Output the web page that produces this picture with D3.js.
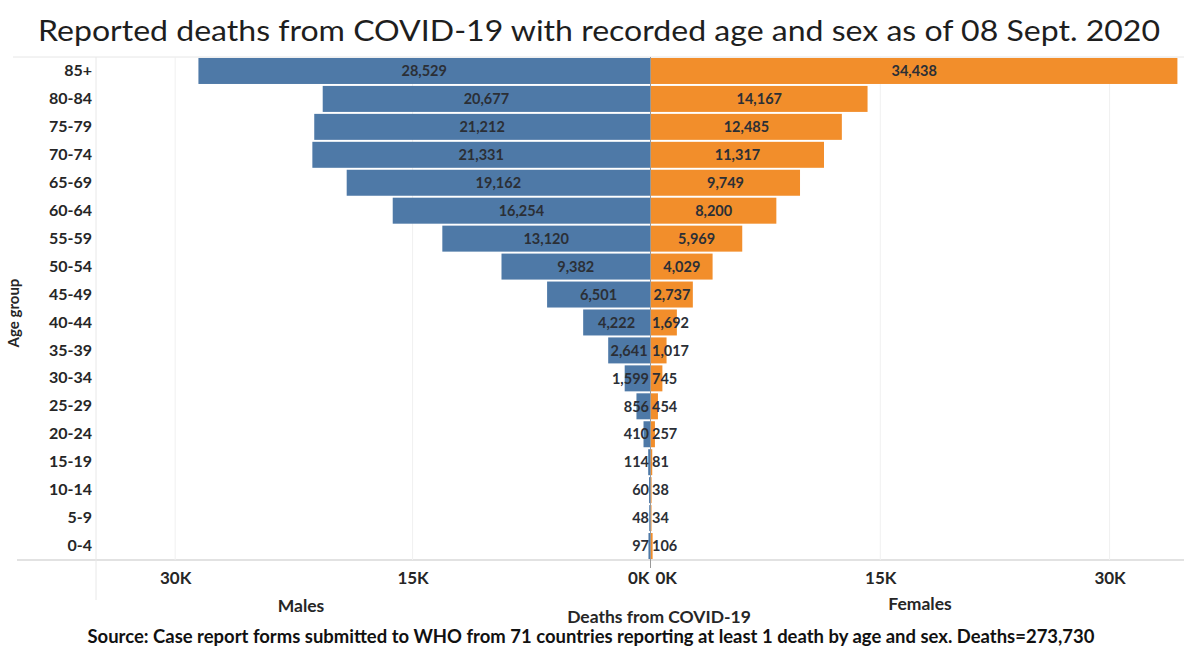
<!DOCTYPE html>
<html>
<head>
<meta charset="utf-8">
<script src="https://cdn.jsdelivr.net/npm/d3@7"></script>
<style>
  html, body { margin: 0; padding: 0; background: #fff; }
  svg { display: block; font-family: Lato, "Open Sans", sans-serif; }
</style>
</head>
<body>
<svg id="chart" width="1184" height="647"></svg>
<script>
// Age groups, top to bottom
const ageGroups = ["85+", "80-84", "75-79", "70-74", "65-69", "60-64", "55-59", "50-54",
  "45-49", "40-44", "35-39", "30-34", "25-29", "20-24", "15-19", "10-14", "5-9", "0-4"];
// Reported deaths by age group
const males = [28529, 20677, 21212, 21331, 19162, 16254, 13120, 9382,
  6501, 4222, 2641, 1599, 856, 410, 114, 60, 48, 97];
const females = [34438, 14167, 12485, 11317, 9749, 8200, 5969, 4029,
  2737, 1692, 1017, 745, 454, 257, 81, 38, 34, 106];
const tickValues = [0, 15000, 30000];

const titleText = "Reported deaths from COVID-19 with recorded age and sex as of 08 Sept. 2020";
const sourceText = "Source: Case report forms submitted to WHO from 71 countries reporting at least 1 death by age and sex. Deaths=273,730";

const svg = d3.select("#chart");
const W = 1184;
const plotTop = 57, plotBottom = 560;
const leftEdge = 96, centerM = 650, centerF = 651, rightEdge = 1186;

const y = d3.scaleBand().domain(ageGroups).range([plotTop, plotBottom]).paddingInner(0.07).paddingOuter(0.035);
const xM = d3.scaleLinear().domain([0, 35000]).range([centerM, leftEdge]);
const xF = d3.scaleLinear().domain([0, 35000]).range([centerF, rightEdge]);

const blue = "#4e79a7", orange = "#f28e2b";
const ink = "#262626";
const fmt = d3.format(",");
const kfmt = d => (d / 1000) + "K";

// Title
svg.append("text")
  .attr("x", 38).attr("y", 41)
  .attr("font-size", 29).attr("fill", "#1e1e1e")
  .attr("textLength", 1122).attr("lengthAdjust", "spacingAndGlyphs")
  .text(titleText);

// Light frame lines
svg.append("line").attr("x1", 13).attr("x2", W).attr("y1", plotTop).attr("y2", plotTop)
  .attr("stroke", "#e6e6e6");
svg.append("line").attr("x1", 17).attr("x2", W).attr("y1", plotBottom).attr("y2", plotBottom)
  .attr("stroke", "#d9d9d9").attr("stroke-width", 1.5);
svg.append("line").attr("x1", leftEdge).attr("x2", leftEdge).attr("y1", plotTop).attr("y2", 600)
  .attr("stroke", "#e8e8e8");

// Faint gridlines
const grid = svg.append("g").attr("stroke", "#f0f0f0");
tickValues.filter(d => d > 0).forEach(v => {
  grid.append("line").attr("x1", xM(v)).attr("x2", xM(v)).attr("y1", plotTop).attr("y2", plotBottom);
  grid.append("line").attr("x1", xF(v)).attr("x2", xF(v)).attr("y1", plotTop).attr("y2", plotBottom);
});

// Bars
svg.append("g").selectAll("rect").data(males).join("rect")
  .attr("x", d => xM(d)).attr("y", (d, i) => y(ageGroups[i]))
  .attr("width", d => xM(0) - xM(d)).attr("height", y.bandwidth())
  .attr("fill", blue);
svg.append("g").selectAll("rect").data(females).join("rect")
  .attr("x", xF(0)).attr("y", (d, i) => y(ageGroups[i]))
  .attr("width", d => xF(d) - xF(0)).attr("height", y.bandwidth())
  .attr("fill", orange);

// Zero line
svg.append("line").attr("x1", 650.5).attr("x2", 650.5).attr("y1", plotTop).attr("y2", 568)
  .attr("stroke", "#999").attr("stroke-width", 1);

// Value labels: centered in the bar when they fit, otherwise against the zero line
const labelFont = 14.5;
const mLabels = svg.append("g").selectAll("text").data(males).join("text")
  .attr("y", (d, i) => y(ageGroups[i]) + y.bandwidth() / 2)
  .attr("dy", "0.36em").attr("font-size", labelFont).attr("font-weight", 700)
  .attr("fill", "#2b2f36").text(d => fmt(d));
mLabels.each(function (d) {
  const w = this.getComputedTextLength();
  const barW = xM(0) - xM(d);
  if (w <= barW) d3.select(this).attr("x", (xM(d) + xM(0)) / 2).attr("text-anchor", "middle");
  else d3.select(this).attr("x", xM(0) - 1).attr("text-anchor", "end");
});
const fLabels = svg.append("g").selectAll("text").data(females).join("text")
  .attr("y", (d, i) => y(ageGroups[i]) + y.bandwidth() / 2)
  .attr("dy", "0.36em").attr("font-size", labelFont).attr("font-weight", 700)
  .attr("fill", "#2b2f36").text(d => fmt(d));
fLabels.each(function (d) {
  const w = this.getComputedTextLength();
  const barW = xF(d) - xF(0);
  if (w <= barW) d3.select(this).attr("x", (xF(d) + xF(0)) / 2).attr("text-anchor", "middle");
  else d3.select(this).attr("x", xF(0) + 1).attr("text-anchor", "start");
});

// Age group axis
const yAxis = svg.append("g").attr("transform", `translate(${leftEdge - 4},0)`)
  .call(d3.axisLeft(y).tickSize(0).tickPadding(0));
yAxis.select(".domain").remove();
yAxis.selectAll("text").attr("font-size", 16).attr("font-weight", 700)
  .attr("fill", ink).attr("font-family", "Lato, sans-serif");

svg.append("text")
  .attr("transform", "translate(19,313) rotate(-90)")
  .attr("text-anchor", "middle").attr("font-size", 15).attr("font-weight", 700).attr("fill", ink)
  .text("Age group");

// Deaths axes
const axM = svg.append("g").attr("transform", `translate(0,${plotBottom + 4})`)
  .call(d3.axisBottom(xM).tickValues(tickValues).tickFormat(kfmt).tickSize(0).tickPadding(8));
const axF = svg.append("g").attr("transform", `translate(0,${plotBottom + 4})`)
  .call(d3.axisBottom(xF).tickValues(tickValues).tickFormat(kfmt).tickSize(0).tickPadding(8));
[axM, axF].forEach(a => {
  a.select(".domain").remove();
  a.selectAll("text").attr("font-size", 17).attr("font-weight", 700)
    .attr("fill", ink).attr("font-family", "Lato, sans-serif");
});
axM.selectAll(".tick").filter(d => d === 0).select("text").attr("text-anchor", "end").attr("dx", -1);
axF.selectAll(".tick").filter(d => d === 0).select("text").attr("text-anchor", "start").attr("dx", 4);

// Axis titles
svg.append("text").attr("x", 301).attr("y", 612).attr("text-anchor", "middle")
  .attr("font-size", 17.5).attr("font-weight", 700).attr("fill", ink).text("Males");
svg.append("text").attr("x", 920).attr("y", 610).attr("text-anchor", "middle")
  .attr("font-size", 17.5).attr("font-weight", 700).attr("fill", ink).text("Females");
svg.append("text").attr("x", 659).attr("y", 623).attr("text-anchor", "middle")
  .attr("font-size", 17.5).attr("font-weight", 700).attr("fill", ink).text("Deaths from COVID-19");

// Source note
svg.append("text").attr("x", 591).attr("y", 643).attr("text-anchor", "middle")
  .attr("font-size", 18).attr("font-weight", 700).attr("fill", "#111")
  .attr("textLength", 1007).attr("lengthAdjust", "spacingAndGlyphs")
  .text(sourceText);
</script>
</body>
</html>
